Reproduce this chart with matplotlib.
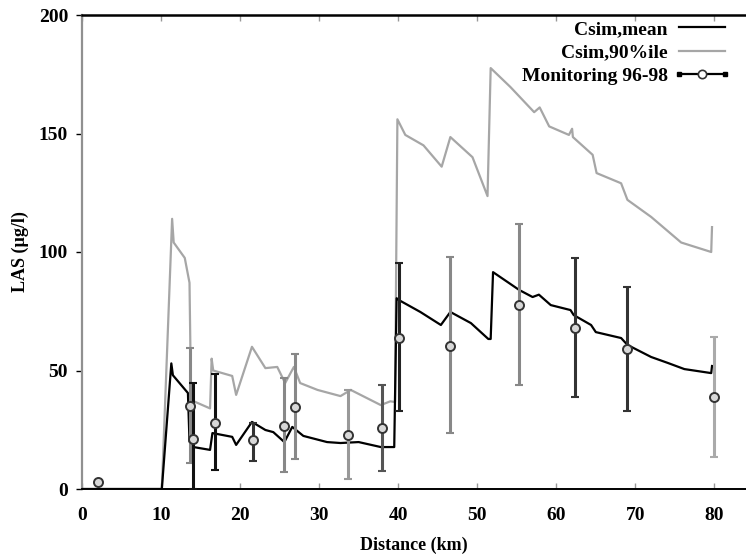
import matplotlib
matplotlib.use("Agg")
import matplotlib.pyplot as plt
from matplotlib.lines import Line2D
from matplotlib.legend_handler import HandlerBase

# ---- data ----
mean_x = [0, 10.1, 11.3, 11.5, 13.4, 13.6, 14.1, 16.2, 16.5, 19.0, 19.5, 21.5, 23.2, 24.2,
          25.6, 26.6, 28.0, 31.0, 32.7, 35.0, 37.8, 39.5, 39.8, 40.1, 42.8, 45.4, 46.6,
          49.2, 51.4, 51.7, 52.0, 55.3, 57.0, 57.8, 59.3, 61.8, 62.2, 64.4, 65.0, 68.2,
          69.0, 72.0, 74.1, 76.2, 79.6, 79.7]
mean_y = [0, 0, 53, 48, 40.5, 20, 17.7, 16.5, 23.6, 22, 18.6, 28.3, 24.9, 24,
          19.8, 26.2, 22.4, 19.8, 19.4, 19.8, 17.7, 17.7, 80.5, 79.7, 74.7, 69.2, 74.7,
          70, 63.3, 63.3, 91.5, 84, 81, 82, 77.6, 75.5, 73.4, 69.2, 66.2, 63.7,
          60.8, 55.7, 53.2, 50.6, 48.9, 51.9]

p90_x = [0, 10.1, 11.4, 11.6, 13.0, 13.6, 13.8, 16.2, 16.4, 16.6, 19.0, 19.5, 21.5, 23.2,
         24.7, 25.7, 26.8, 27.6, 29.8, 32.7, 34.0, 37.8, 39.0, 39.6, 39.9, 40.9, 43.2,
         45.5, 46.6, 49.4, 51.3, 51.7, 54.2, 57.2, 57.9, 59.1, 61.6, 62.0, 62.1, 64.6,
         65.1, 68.2, 69.0, 72.0, 75.8, 79.6, 79.7]
p90_y = [0, 0, 114, 104, 97.5, 87, 37.5, 34, 55, 50, 47.7, 39.7, 60, 51,
         51.5, 44.7, 51.5, 44.7, 41.8, 39.2, 41.8, 35.4, 37, 36.7, 156, 149.4, 145,
         136, 148.5, 140, 123.6, 177.6, 169.6, 159, 161, 153, 149.4, 152, 148.5, 141,
         133.3, 129, 122, 114.8, 104, 100, 110.5]

mon_x = [2.0, 13.6, 14.1, 16.8, 21.6, 25.6, 27.0, 33.7, 38.0, 40.1, 46.5, 55.3, 62.4, 69.0, 79.9]
mon_y = [3, 35, 21, 28, 20.5, 26.6, 34.6, 22.8, 25.8, 63.8, 60.3, 77.6, 67.9, 59, 38.8]
mon_hi = [3, 59.5, 44.7, 48.5, 28, 47, 57, 41.8, 43.9, 95.4, 98, 112, 97.4, 85.2, 64]
mon_lo = [3, 11, -3, 8, 12, 7, 12.7, 4.2, 7.6, 33, 23.6, 44, 38.8, 33, 13.5]

x_ticks = [0, 10, 20, 30, 40, 50, 60, 70, 80]
y_ticks = [0, 50, 100, 150, 200]

# ---- style ----
bar_colors = ['#555555', '#888888', '#111111', '#111111', '#333333', '#888888', '#888888',
              '#999999', '#555555', '#222222', '#888888', '#888888', '#333333', '#333333',
              '#aaaaaa']

plt.rcParams['font.family'] = ['Liberation Serif', 'DejaVu Serif']
plt.rcParams['font.weight'] = 'bold'


class HandlerErrLine(HandlerBase):
    def create_artists(self, legend, orig_handle, xdescent, ydescent, width, height,
                       fontsize, trans):
        y = height / 2.0 - ydescent
        x0, x1 = -xdescent, -xdescent + width
        line = Line2D([x0, x1], [y, y], color='black', lw=1.6, transform=trans)
        caps = Line2D([x0, x1], [y, y], lw=0, marker='s', markersize=3,
                      color='black', transform=trans)
        dot = Line2D([(x0 + x1) / 2], [y], lw=0, marker='o', markersize=6,
                     markerfacecolor='white', markeredgecolor='#333333',
                     markeredgewidth=1.2, transform=trans)
        return [line, caps, dot]


fig = plt.figure(figsize=(7.46, 5.57), dpi=100)
ax = fig.add_axes([82 / 746, 68 / 557, 1 - 82 / 746, 474 / 557])

gray = '#a6a6a6'
ax.plot(p90_x, p90_y, color=gray, lw=1.6, zorder=2)
ax.plot(mean_x, mean_y, color='black', lw=1.6, zorder=3)

for i in range(len(mon_x)):
    ye = [[mon_y[i] - max(mon_lo[i], 0)], [mon_hi[i] - mon_y[i]]]
    ax.errorbar([mon_x[i]], [mon_y[i]], yerr=ye, fmt='none', ecolor=bar_colors[i],
                elinewidth=2.2, capsize=3, capthick=1.5, zorder=4)
ax.plot(mon_x, mon_y, linestyle='none', marker='o', markersize=6.5,
        markerfacecolor='#d8d8d8', markeredgecolor='#333333', markeredgewidth=1.4, zorder=5)

ax.set_xlim(0, 84)
ax.set_ylim(0, 200)
ax.set_xticks(x_ticks)
ax.set_yticks(y_ticks)
ax.tick_params(axis='y', direction='out', length=4, width=1, left=True, right=False,
               labelsize=14, pad=6)
ax.tick_params(axis='x', direction='in', length=4, width=1, color='#999999', top=True,
               bottom=True, labelsize=14, pad=13)
for lbl in ax.get_xticklabels() + ax.get_yticklabels():
    lbl.set_fontweight('bold')

ax.spines['right'].set_visible(False)
ax.spines['left'].set_color('#909090')
ax.spines['left'].set_linewidth(1.6)
ax.spines['top'].set_linewidth(1.8)
ax.spines['bottom'].set_linewidth(1.4)

ax.set_xlabel('Distance (km)', fontsize=13, fontweight='bold', labelpad=9)
ax.set_ylabel('LAS (µg/l)', fontsize=13, fontweight='bold', labelpad=7)

h_mean = Line2D([], [], color='black', lw=1.6)
h_p90 = Line2D([], [], color=gray, lw=1.6)
h_mon = Line2D([], [], color='black', lw=1.6)
leg = ax.legend([h_mean, h_p90, h_mon],
                ['Csim,mean', 'Csim,90%ile', 'Monitoring 96-98'],
                handler_map={h_mon: HandlerErrLine()},
                loc='upper right', bbox_to_anchor=(0.995, 1.025), frameon=False,
                markerfirst=False, numpoints=1, handlelength=2.4, handletextpad=0.55,
                labelspacing=0.3, prop={'size': 14, 'weight': 'bold'})

fig.savefig('out.png', dpi=100)
